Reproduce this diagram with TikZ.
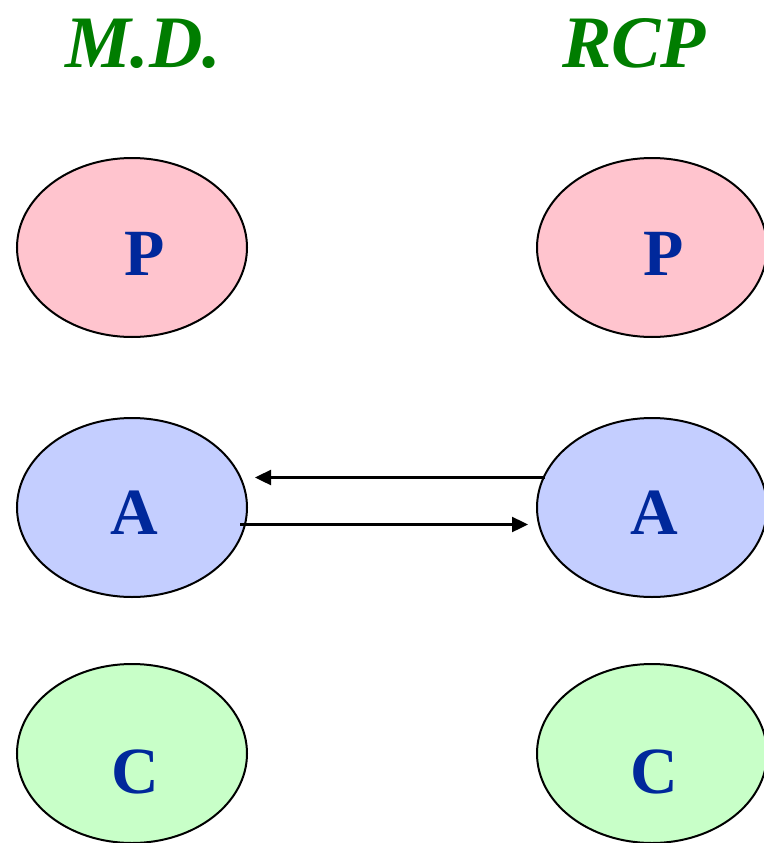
\documentclass[tikz,border=0pt]{standalone}
\usepackage{fontspec}
\setmainfont{Liberation Serif}
\usetikzlibrary{shapes.geometric,arrows.meta,calc}
\definecolor{titlegreen}{RGB}{0,125,0}
\definecolor{pfill}{RGB}{255,196,206}
\definecolor{afill}{RGB}{196,206,255}
\definecolor{cfill}{RGB}{200,255,200}
\definecolor{letterblue}{RGB}{0,40,155}
\tikzset{
  oval/.style={ellipse, draw=black, line width=2pt, minimum width=230pt, minimum height=179pt, inner sep=0pt},
  letter/.style={anchor=base, inner sep=0pt, text=letterblue, font=\fontsize{66}{66}\selectfont\bfseries},
  title/.style={anchor=base west, inner sep=0pt, text=titlegreen, font=\fontsize{74}{74}\selectfont\bfseries\itshape},
  link/.style={line width=2.4pt, -{Triangle[length=16pt,width=15pt]}}
}
\begin{document}
\begin{tikzpicture}[x=1pt,y=-1pt]
\useasboundingbox (0,0) rectangle (763,843);
\node[title] (tmd) at (65,67) {M.D.};
\node[title] (trcp) at (562,67) {RCP};
\node[oval, fill=pfill] (lp) at (132,247.5) {};
\node[oval, fill=afill] (la) at (132,507.5) {};
\node[oval, fill=cfill] (lc) at (132,753.5) {};
\node[oval, fill=pfill] (rp) at (652,247.5) {};
\node[oval, fill=afill] (ra) at (652,507.5) {};
\node[oval, fill=cfill] (rc) at (652,753.5) {};
\node[letter] (lpt) at (145,275) {P};
\node[letter] (lat) at (134,534) {A};
\node[letter] (lct) at (135,793) {C};
\node[letter] (rpt) at (664,275) {P};
\node[letter] (rat) at (654,534) {A};
\node[letter] (rct) at (654,793) {C};
\coordinate (u1) at ($(ra.center)+(-107,-30)$);
\coordinate (u2) at ($(la.center)+(123,-30)$);
\coordinate (d1) at ($(la.center)+(108,17)$);
\coordinate (d2) at ($(ra.center)+(-124,17)$);
\draw[link] (u1) -- (u2);
\draw[link] (d1) -- (d2);
\end{tikzpicture}
\end{document}
